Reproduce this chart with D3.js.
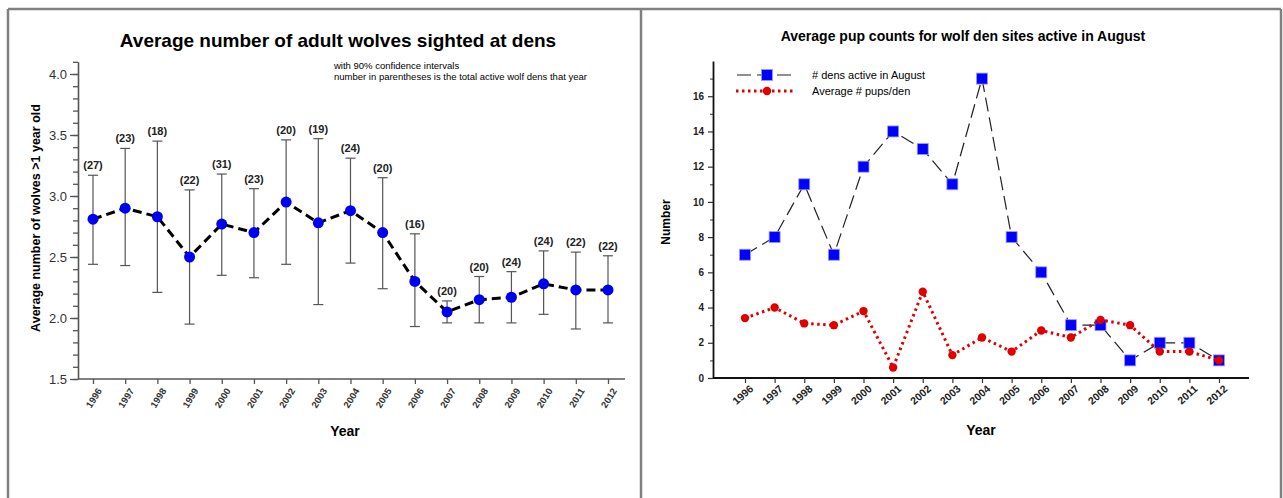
<!DOCTYPE html>
<html>
<head>
<meta charset="utf-8">
<script src="https://cdn.jsdelivr.net/npm/d3@7"></script>
<style>
  body { margin: 0; background: #fff; }
  svg { display: block; font-family: "Liberation Sans", Arial, sans-serif; }
</style>
</head>
<body>
<svg id="chart"></svg>
<script>
// data
const years = ["1996", "1997", "1998", "1999", "2000", "2001", "2002", "2003", "2004",
  "2005", "2006", "2007", "2008", "2009", "2010", "2011", "2012"];

// left chart: adults per den with 90% CI, and number of active dens
const adultMean = [2.81, 2.90, 2.83, 2.50, 2.77, 2.70, 2.95, 2.78, 2.88, 2.70, 2.30, 2.05, 2.15, 2.17, 2.28, 2.23, 2.23];
const adultLow = [2.44, 2.43, 2.21, 1.95, 2.35, 2.33, 2.44, 2.11, 2.45, 2.24, 1.93, 1.96, 1.96, 1.96, 2.03, 1.91, 1.96];
const adultHigh = [3.17, 3.39, 3.45, 3.05, 3.18, 3.06, 3.46, 3.47, 3.31, 3.15, 2.69, 2.14, 2.34, 2.38, 2.55, 2.54, 2.51];
const totalDens = [27, 23, 18, 22, 31, 23, 20, 19, 24, 20, 16, 20, 20, 24, 24, 22, 22];

// right chart
const densActive = [7, 8, 11, 7, 12, 14, 13, 11, 17, 8, 6, 3, 3, 1, 2, 2, 1];
const pupsPerDen = [3.4, 4.0, 3.1, 3.0, 3.8, 0.6, 4.9, 1.3, 2.3, 1.5, 2.7, 2.3, 3.3, 3.0, 1.5, 1.5, 1.0];

const leftMajorTicks = [1.5, 2.0, 2.5, 3.0, 3.5, 4.0];
const rightMajorTicks = [0, 2, 4, 6, 8, 10, 12, 14, 16];

const width = 1283;
const height = 498;
const svg = d3.select("#chart").attr("width", width).attr("height", height);

// frame around the two panels
const frame = svg.append("g").attr("stroke", "#808080").attr("stroke-width", 2.5);
frame.append("line").attr("x1", 8).attr("x2", 1281).attr("y1", 9).attr("y2", 9);
frame.append("line").attr("x1", 8).attr("x2", 8).attr("y1", 9).attr("y2", height);
frame.append("line").attr("x1", 641).attr("x2", 641).attr("y1", 9).attr("y2", height);
frame.append("line").attr("x1", 1281).attr("x2", 1281).attr("y1", 9).attr("y2", height);

// ---------- left chart ----------
const left = svg.append("g");
const xL = d3.scalePoint().domain(years).range([93, 608]);
const yL = d3.scaleLinear().domain([1.5, 4.1]).range([379, 61.8]);

left.append("text")
  .attr("x", 338).attr("y", 47)
  .attr("text-anchor", "middle")
  .style("font-size", "19px").style("font-weight", "bold")
  .text("Average number of adult wolves sighted at dens");

left.append("text").attr("x", 334).attr("y", 69)
  .style("font-size", "9.5px").text("with 90% confidence intervals");
left.append("text").attr("x", 334).attr("y", 80)
  .style("font-size", "9.5px").text("number in parentheses is the total active wolf dens that year");

// minor ticks every 0.1
left.append("g")
  .attr("transform", "translate(78,0)")
  .call(d3.axisLeft(yL).tickValues(d3.range(15, 42).map((d) => d / 10)).tickSize(5).tickFormat(""))
  .call((g) => g.select(".domain").remove())
  .call((g) => g.selectAll("line").attr("stroke", "#555").attr("stroke-width", 1.3));

const yAxisL = left.append("g")
  .attr("transform", "translate(78,0)")
  .call(d3.axisLeft(yL).tickValues(leftMajorTicks).tickSize(8).tickSizeOuter(0).tickFormat(d3.format(".1f")));
yAxisL.select(".domain").attr("stroke", "#555").attr("stroke-width", 1.6);
yAxisL.selectAll("line").attr("stroke", "#555").attr("stroke-width", 1.3);
yAxisL.selectAll("text").style("font-size", "13px").attr("fill", "#333").attr("x", -11);

const xAxisL = left.append("g")
  .attr("transform", "translate(0,379)")
  .call(d3.axisBottom(xL).tickSize(5).tickSizeOuter(0));
xAxisL.select(".domain").attr("d", "M78,0H625").attr("stroke", "#555").attr("stroke-width", 1.6);
xAxisL.selectAll("line").attr("stroke", "#555").attr("stroke-width", 1.3);
xAxisL.selectAll("text")
  .style("font-size", "9.5px").style("font-weight", "bold").attr("fill", "#333")
  .attr("text-anchor", "end")
  .attr("transform", "translate(6,10) rotate(-58)")
  .attr("x", 0).attr("y", 0).attr("dy", "0.35em");

left.append("text")
  .attr("transform", "translate(40,218) rotate(-90)")
  .attr("text-anchor", "middle")
  .style("font-size", "12.5px").style("font-weight", "bold")
  .text("Average number of wolves >1 year old");

left.append("text")
  .attr("x", 345).attr("y", 436)
  .attr("text-anchor", "middle")
  .style("font-size", "14px").style("font-weight", "bold")
  .text("Year");

const rowsL = years.map((yr, i) => ({
  year: yr, mean: adultMean[i], low: adultLow[i], high: adultHigh[i], n: totalDens[i],
}));

// error bars
const bars = left.append("g").attr("stroke", "#555").attr("stroke-width", 1.2);
bars.selectAll(".stem").data(rowsL).enter().append("line")
  .attr("x1", (d) => xL(d.year)).attr("x2", (d) => xL(d.year))
  .attr("y1", (d) => yL(d.low)).attr("y2", (d) => yL(d.high));
bars.selectAll(".capHi").data(rowsL).enter().append("line")
  .attr("x1", (d) => xL(d.year) - 5).attr("x2", (d) => xL(d.year) + 5)
  .attr("y1", (d) => yL(d.high)).attr("y2", (d) => yL(d.high));
bars.selectAll(".capLo").data(rowsL).enter().append("line")
  .attr("x1", (d) => xL(d.year) - 5).attr("x2", (d) => xL(d.year) + 5)
  .attr("y1", (d) => yL(d.low)).attr("y2", (d) => yL(d.low));

left.append("path")
  .datum(rowsL)
  .attr("fill", "none").attr("stroke", "#000").attr("stroke-width", 3)
  .attr("stroke-dasharray", "9,5")
  .attr("d", d3.line().x((d) => xL(d.year)).y((d) => yL(d.mean)));

left.selectAll(".pt").data(rowsL).enter().append("circle")
  .attr("cx", (d) => xL(d.year)).attr("cy", (d) => yL(d.mean))
  .attr("r", 5.5).attr("fill", "#0000f0");

left.selectAll(".nlab").data(rowsL).enter().append("text")
  .attr("x", (d) => xL(d.year)).attr("y", (d) => yL(d.high) - 6)
  .attr("text-anchor", "middle")
  .style("font-size", "11px").style("font-weight", "bold").attr("fill", "#222")
  .text((d) => `(${d.n})`);

// ---------- right chart ----------
const right = svg.append("g");
const xR = d3.scalePoint().domain(years).range([745, 1219]);
const yR = d3.scaleLinear().domain([0, 18]).range([378, 61]);

right.append("text")
  .attr("x", 963).attr("y", 41)
  .attr("text-anchor", "middle")
  .style("font-size", "14px").style("font-weight", "bold")
  .text("Average pup counts for wolf den sites active in August");

right.append("g")
  .attr("transform", "translate(713,0)")
  .call(d3.axisLeft(yR).tickValues(d3.range(1, 18, 2)).tickSize(3).tickFormat(""))
  .call((g) => g.select(".domain").remove())
  .call((g) => g.selectAll("line").attr("stroke", "#555").attr("stroke-width", 1.2));

const yAxisR = right.append("g")
  .attr("transform", "translate(713,0)")
  .call(d3.axisLeft(yR).tickValues(rightMajorTicks).tickSize(5).tickSizeOuter(0));
yAxisR.select(".domain").attr("stroke", "#111").attr("stroke-width", 1.8);
yAxisR.selectAll("line").attr("stroke", "#333").attr("stroke-width", 1.2);
yAxisR.selectAll("text").style("font-size", "10px").style("font-weight", "bold").attr("fill", "#222").attr("x", -9);

const xAxisR = right.append("g")
  .attr("transform", "translate(0,378)")
  .call(d3.axisBottom(xR).tickSize(5).tickSizeOuter(0));
xAxisR.select(".domain").attr("d", "M713,0H1249").attr("stroke", "#111").attr("stroke-width", 1.8);
xAxisR.selectAll("line").attr("stroke", "#333").attr("stroke-width", 1.2);
xAxisR.selectAll("text")
  .style("font-size", "10.5px").style("font-weight", "bold").attr("fill", "#222")
  .attr("text-anchor", "end")
  .attr("transform", "translate(6,9) rotate(-42)")
  .attr("x", 0).attr("y", 0).attr("dy", "0.35em");

right.append("text")
  .attr("transform", "translate(670,222) rotate(-90)")
  .attr("text-anchor", "middle")
  .style("font-size", "12px").style("font-weight", "bold")
  .text("Number");

right.append("text")
  .attr("x", 981).attr("y", 435)
  .attr("text-anchor", "middle")
  .style("font-size", "14px").style("font-weight", "bold")
  .text("Year");

const rowsR = years.map((yr, i) => ({ year: yr, dens: densActive[i], pups: pupsPerDen[i] }));

right.append("path")
  .datum(rowsR)
  .attr("fill", "none").attr("stroke", "#222").attr("stroke-width", 1.2)
  .attr("stroke-dasharray", "14,6")
  .attr("d", d3.line().x((d) => xR(d.year)).y((d) => yR(d.dens)));

right.selectAll(".sq").data(rowsR).enter().append("rect")
  .attr("x", (d) => xR(d.year) - 5.5).attr("y", (d) => yR(d.dens) - 5.5)
  .attr("width", 11).attr("height", 11)
  .attr("fill", "#0000ff").attr("stroke", "#9999ff").attr("stroke-width", 0.8);

right.append("path")
  .datum(rowsR)
  .attr("fill", "none").attr("stroke", "#e00000").attr("stroke-width", 3)
  .attr("stroke-dasharray", "2.5,3.5")
  .attr("d", d3.line().x((d) => xR(d.year)).y((d) => yR(d.pups)));

right.selectAll(".dot").data(rowsR).enter().append("circle")
  .attr("cx", (d) => xR(d.year)).attr("cy", (d) => yR(d.pups))
  .attr("r", 4.2).attr("fill", "#e00000");

// legend
const legend = right.append("g");
legend.append("line").attr("x1", 737).attr("x2", 792).attr("y1", 75).attr("y2", 75)
  .attr("stroke", "#222").attr("stroke-width", 1.2).attr("stroke-dasharray", "14,6");
legend.append("rect").attr("x", 767 - 5.5).attr("y", 75 - 5.5).attr("width", 11).attr("height", 11)
  .attr("fill", "#0000ff").attr("stroke", "#9999ff").attr("stroke-width", 0.8);
legend.append("line").attr("x1", 736).attr("x2", 796).attr("y1", 91).attr("y2", 91)
  .attr("stroke", "#e00000").attr("stroke-width", 3).attr("stroke-dasharray", "2.5,3.5");
legend.append("circle").attr("cx", 767).attr("cy", 91).attr("r", 4.2).attr("fill", "#e00000");
legend.append("text").attr("x", 812).attr("y", 79).style("font-size", "11px").text("# dens active in August");
legend.append("text").attr("x", 812).attr("y", 95).style("font-size", "11px").text("Average # pups/den");
</script>
</body>
</html>
